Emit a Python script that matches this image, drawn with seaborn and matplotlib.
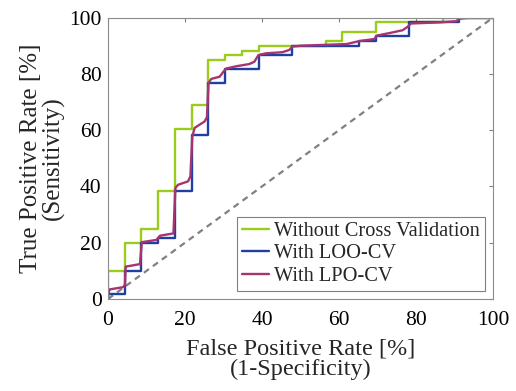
import matplotlib
matplotlib.use("Agg")
import matplotlib.pyplot as plt
import seaborn as sns
import pandas as pd

# --- data (vertices of ROC curves, in %) ---
fpr_nocv = [0, 0, 4.35, 4.35, 8.70, 8.70, 13.04, 13.04, 17.39, 17.39, 21.74, 21.74,
            26.09, 26.09, 30.43, 30.43, 34.78, 34.78, 39.13, 39.13, 56.52, 56.52,
            60.87, 60.87, 69.57, 69.57, 86.96, 86.96, 100]
tpr_nocv = [0, 10, 10, 20, 20, 25, 25, 38.3, 38.3, 60.5, 60.5, 68.8,
            68.8, 85, 85, 86.7, 86.7, 88.3, 88.3, 90, 90, 91.7,
            91.7, 95, 95, 98.3, 98.3, 100, 100]

fpr_loo = [0, 0, 4.35, 4.35, 8.70, 8.70, 13.04, 13.04, 17.39, 17.39, 21.74, 21.74,
           26.09, 26.09, 30.43, 30.43, 39.13, 39.13, 47.83, 47.83, 65.22, 65.22,
           69.57, 69.57, 78.26, 78.26, 91.30, 91.30, 100]
tpr_loo = [0, 1.7, 1.7, 10, 10, 20, 20, 21.7, 21.7, 38.3, 38.3, 58.3,
           58.3, 76.7, 76.7, 81.7, 81.7, 86.7, 86.7, 90, 90, 91.7,
           91.7, 93.3, 93.3, 98.3, 98.3, 100, 100]

fpr_lpo = [0, 0.4, 3.9, 4.4, 4.6, 8.3, 8.8, 12.6, 13.5, 17.0, 17.5, 18.2, 20.8, 21.4,
           21.9, 22.5, 25.1, 25.7, 26.1, 26.8, 29.0, 30.0, 30.7, 33.3, 36.7, 38.0,
           39.1, 41.0, 45.3, 47.1, 47.9, 50.0, 62.0, 65.1, 69.2, 69.8, 73.1, 76.5,
           77.8, 78.7, 86.0, 90.4, 91.3, 93.9, 100]
tpr_lpo = [1.0, 3.4, 4.2, 5.0, 11.5, 12.4, 20.2, 21.0, 22.5, 23.3, 39.4, 40.6, 41.8, 43.6,
           57.8, 60.8, 63.1, 64.6, 76.7, 78.2, 79.0, 80.8, 81.9, 82.7, 83.5, 84.3,
           86.7, 87.3, 87.7, 88.5, 89.7, 90.0, 90.6, 91.6, 92.4, 93.6, 94.5, 95.5,
           96.7, 97.9, 98.3, 98.7, 99.6, 100, 100]

diag_x = [0, 100]
diag_y = [0, 100]

labels = ["Without Cross Validation", "With LOO-CV", "With LPO-CV"]
colors = ["#9BCB1B", "#1F3FA3", "#A6356F"]
xticks = [0, 20, 40, 60, 80, 100]
yticks = [0, 20, 40, 60, 80, 100]

sns.set_style("white")
plt.rcParams["font.family"] = ["Liberation Serif", "DejaVu Serif"]

fig = plt.figure(figsize=(5.16, 3.91), dpi=100)
ax = fig.add_axes([0.2093, 0.2353, 0.9554 - 0.2093, 0.955 - 0.2353])

sns.lineplot(x=diag_x, y=diag_y, ax=ax, color="#808080", linestyle=(0, (2.8, 2.2)),
             linewidth=1.6, sort=False)
series = [(fpr_nocv, tpr_nocv), (fpr_loo, tpr_loo), (fpr_lpo, tpr_lpo)]
for (fx, ty), lab, col in zip(series, labels, colors):
    sns.lineplot(x=fx, y=ty, ax=ax, color=col, linewidth=1.7, sort=False,
                 estimator=None, label=lab)

ax.set_xlim(0, 100)
ax.set_ylim(0, 100)
ax.set_xticks(xticks)
ax.set_yticks(yticks)
ax.tick_params(direction="in", top=True, right=True, length=3, width=0.8,
               colors="#808080", labelcolor="black", labelsize=15.5)
ax.tick_params(axis="x", pad=9)
ax.tick_params(axis="y", pad=4.5)
for sp in ax.spines.values():
    sp.set_color("#8c8c8c")
    sp.set_linewidth(0.8)
    sp.set_visible(True)

ax.set_xlabel("False Positive Rate [%]\n(1-Specificity)", fontsize=17.5, linespacing=0.95,
              labelpad=6)
ax.set_ylabel("True Positive Rate [%]\n(Sensitivity)", fontsize=18, linespacing=1.0,
              labelpad=3)

leg = ax.legend(loc="lower right", fontsize=14.7, frameon=True, fancybox=False,
                edgecolor="#808080", framealpha=1, handlelength=1.3, handletextpad=0.25,
                borderaxespad=0.4, labelspacing=0.15, borderpad=0.25)
leg.get_frame().set_linewidth(0.8)

fig.savefig("out.png", dpi=100)
